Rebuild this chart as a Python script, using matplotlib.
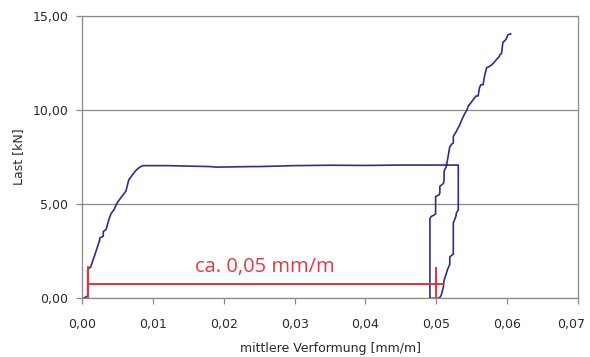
import numpy as np
import matplotlib.pyplot as plt
import matplotlib.transforms as mtransforms

# loading branch: strain [mm/m], load [kN]
load_x = [0.0, 0.0002, 0.0007, 0.0008, 0.0008, 0.0012, 0.0012, 0.0018, 0.0018, 0.0025, 0.0025,
          0.0030, 0.0030, 0.0034, 0.0038, 0.0041, 0.0045, 0.0048, 0.0051, 0.0055, 0.0059,
          0.0062, 0.0064, 0.0066, 0.0069, 0.0072, 0.0075, 0.0079, 0.0083, 0.0086,
          0.0120, 0.0180, 0.0190, 0.0240, 0.0250, 0.0300, 0.0350, 0.0400, 0.0450,
          0.0500, 0.0531]
load_y = [0.0, 0.0, 0.1, 0.1, 1.55, 1.65, 1.65, 2.3, 2.3, 3.1, 3.2,
          3.3, 3.55, 3.65, 4.2, 4.5, 4.7, 4.95, 5.15, 5.35, 5.55,
          5.7, 6.0, 6.3, 6.45, 6.6, 6.75, 6.9, 7.0, 7.05,
          7.05, 7.0, 6.97, 7.0, 7.0, 7.05, 7.07, 7.06, 7.08,
          7.08, 7.08]

# unloading branch
unload_x = [0.0531, 0.0531, 0.0528, 0.0528, 0.0525, 0.0524, 0.0524, 0.0519, 0.0519,
            0.0516, 0.0514, 0.0511, 0.0510, 0.0507, 0.0505, 0.0503, 0.0491]
unload_y = [7.08, 4.7, 4.5, 4.4, 4.1, 4.0, 2.35, 2.2, 1.8,
            1.55, 1.3, 0.97, 0.6, 0.17, 0.05, 0.0, 0.0]

# reloading branch
reload_x = [0.0491, 0.0491, 0.0493, 0.0498, 0.0499, 0.0499, 0.0504, 0.0505, 0.0505,
            0.0510, 0.0511, 0.0511, 0.0514, 0.0516, 0.0519, 0.0522, 0.0524, 0.0524,
            0.0528, 0.0530, 0.0533, 0.0535, 0.0538, 0.0540, 0.0543, 0.0545, 0.0547,
            0.0550, 0.0552, 0.0556, 0.0559, 0.0561, 0.0563, 0.0566, 0.0568, 0.0571,
            0.0574, 0.0578, 0.0582, 0.0585, 0.0588, 0.0590, 0.0592, 0.0594, 0.0597,
            0.0599, 0.0601, 0.0605]
reload_y = [0.0, 4.25, 4.35, 4.45, 4.5, 5.4, 5.5, 5.6, 5.95,
            6.1, 6.3, 6.75, 7.0, 7.4, 8.05, 8.2, 8.25, 8.6,
            8.85, 9.0, 9.2, 9.4, 9.65, 9.8, 10.0, 10.2, 10.3,
            10.45, 10.55, 10.75, 10.75, 11.2, 11.35, 11.35, 11.8, 12.25,
            12.3, 12.4, 12.55, 12.7, 12.8, 12.95, 13.0, 13.6, 13.7,
            13.8, 14.0, 14.05]

xticks = [0.00, 0.01, 0.02, 0.03, 0.04, 0.05, 0.06, 0.07]
yticks = [0.0, 5.0, 10.0, 15.0]

# red annotation
span_start, span_end, span_level = 0.0008, 0.0509, 0.74
marker_x = [0.0008, 0.0500]
marker_top = [1.65, 1.6]

plt.rcParams['font.family'] = ['DejaVu Sans']

fig = plt.figure(figsize=(5.9, 3.57), dpi=100)
ax = fig.add_axes([0.139, 0.1644, 0.8407, 0.7908])

gray = '#8a8a8a'
blue = '#2e2e8a'
txt = '#2a2a2a'
ax.plot(load_x + unload_x + reload_x, load_y + unload_y + reload_y, color=blue, lw=1.2)

ax.plot([span_start, span_end], [span_level, span_level], color='#e8303a', lw=1.4)
for mx, mt in zip(marker_x, marker_top):
    ax.plot([mx, mx], [0, mt], color='#e8303a', lw=1.4)
ax.text(0.02585, 1.41, 'ca. 0,05 mm/m', color='#e03a44', fontsize=14.5,
        family=['Open Sans', 'DejaVu Sans'], ha='center', va='baseline')

ax.set_xlim(0, 0.07)
ax.set_ylim(0, 15)
ax.set_xticks(xticks)
ax.set_yticks(yticks)
ax.set_xticklabels([f'{v:.2f}'.replace('.', ',') for v in xticks])
ax.set_yticklabels([f'{v:.2f}'.replace('.', ',') for v in yticks])
ax.yaxis.grid(True, color=gray, lw=0.9)
ax.set_axisbelow(True)
for s in ax.spines.values():
    s.set_color(gray)
    s.set_linewidth(0.9)
ax.tick_params(colors=gray, labelcolor=txt, labelsize=9, length=4, width=0.9)
ax.tick_params(axis='x', pad=10)
ax.tick_params(axis='y', pad=6)
ax.set_xlabel('mittlere Verformung [mm/m]', fontsize=9, color=txt, labelpad=8)
ax.set_ylabel('Last [kN]', fontsize=9, color=txt, labelpad=5)

# keep the last x label inside the canvas
last = ax.get_xticklabels()[-1]
last.set_transform(last.get_transform() + mtransforms.ScaledTranslation(-7 / 100, 0, fig.dpi_scale_trans))

fig.savefig('out.png', dpi=100)
